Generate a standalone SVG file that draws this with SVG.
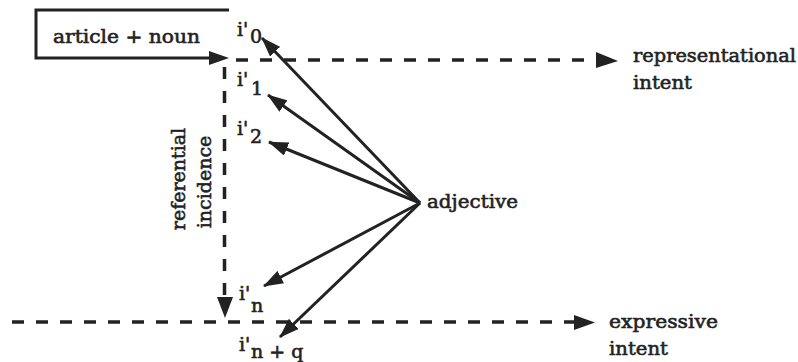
<svg xmlns="http://www.w3.org/2000/svg" width="798" height="362" viewBox="0 0 798 362">
<style>
  .t { font-family: "DejaVu Serif", "Liberation Serif", serif; font-size: 19px; fill: #222; stroke: #222; stroke-width: 0.6; }
  .solid { stroke: #222; stroke-width: 3; fill: none; }
  .dash { stroke: #222; stroke-width: 3.5; fill: none; stroke-dasharray: 12 12; }
  .head { fill: #222; }
</style>
<defs>
  <marker id="ah" markerUnits="userSpaceOnUse" markerWidth="20" markerHeight="14" refX="19" refY="7" orient="auto">
    <path d="M0,0 L20,7 L0,14 z" fill="#222"/>
  </marker>
</defs>
<rect width="798" height="362" fill="#fff"/>

<g id="connectors">
  <path class="solid" d="M229,10 L36,10 L36,58 L212,58"/>
  <polygon class="head" points="209,51 229,58 209,65"/>
  <line class="dash" x1="236" y1="60" x2="598" y2="60"/>
  <polygon class="head" points="596,52 618,61 596,68"/>
  <line class="dash" x1="224.5" y1="67" x2="224.5" y2="296"/>
  <polygon class="head" points="217,297 233,297 225,318"/>
  <line class="dash" x1="12" y1="322" x2="576" y2="322"/>
  <polygon class="head" points="574,315 595,322.5 574,330"/>
  <line class="solid" x1="420" y1="203" x2="262" y2="38" marker-end="url(#ah)"/>
  <line class="solid" x1="420" y1="203" x2="268" y2="95" marker-end="url(#ah)"/>
  <line class="solid" x1="420" y1="203" x2="269" y2="142" marker-end="url(#ah)"/>
  <line class="solid" x1="420" y1="203" x2="264" y2="286" marker-end="url(#ah)"/>
  <line class="solid" x1="420" y1="203" x2="280" y2="337" marker-end="url(#ah)"/>
</g>

<g id="article-noun">
  <text class="t" x="53" y="43" textLength="147" lengthAdjust="spacingAndGlyphs">article + noun</text>
</g>
<g id="i0">
  <text class="t" x="237" y="36">i'</text>
  <text class="t" x="250" y="43">0</text>
</g>
<g id="i1">
  <text class="t" x="237" y="86">i'</text>
  <text class="t" x="251" y="95">1</text>
</g>
<g id="i2">
  <text class="t" x="237" y="135">i'</text>
  <text class="t" x="250" y="143">2</text>
</g>
<g id="in">
  <text class="t" x="239" y="300">i'</text>
  <text class="t" x="251" y="312">n</text>
</g>
<g id="inq">
  <text class="t" x="239" y="351">i'</text>
  <text class="t" x="251" y="358">n + q</text>
</g>
<g id="adjective">
  <text class="t" x="427" y="208" textLength="91" lengthAdjust="spacingAndGlyphs">adjective</text>
</g>
<g id="representational-intent">
  <text class="t" x="633" y="62" textLength="163" lengthAdjust="spacingAndGlyphs">representational</text>
  <text class="t" x="633" y="89" textLength="59" lengthAdjust="spacingAndGlyphs">intent</text>
</g>
<g id="expressive-intent">
  <text class="t" x="609" y="328" textLength="109" lengthAdjust="spacingAndGlyphs">expressive</text>
  <text class="t" x="609" y="355" textLength="59" lengthAdjust="spacingAndGlyphs">intent</text>
</g>
<g id="referential-incidence">
  <text class="t" text-anchor="middle" transform="translate(185,179) rotate(-90)">referential</text>
  <text class="t" text-anchor="middle" transform="translate(211,182) rotate(-90)">incidence</text>
</g>
</svg>
